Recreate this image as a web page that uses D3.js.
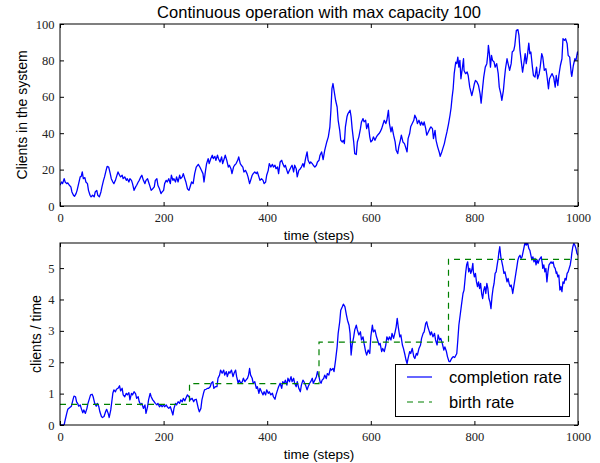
<!DOCTYPE html>
<html>
<head>
<meta charset="utf-8">
<script src="https://cdn.jsdelivr.net/npm/d3@7"></script>
<style>
  body { margin: 0; background: #fff; }
  svg text { font-family: "Liberation Sans", Arial, sans-serif; fill: #000; }
  .tick line { stroke: #000; }
</style>
</head>
<body>
<svg id="chart" width="600" height="463"></svg>
<script>
// Tick values shared by both panels
const timeTicks = [0, 200, 400, 600, 800, 1000];
const clientTicks = [0, 20, 40, 60, 80, 100];
const rateTicks = [0, 1, 2, 3, 4, 5];

// Number of clients in the system over time
const clientSteps = [0,3,5,8,10,13,15,18,21,23,26,28,31,33,36,39,41,43,45,48,50,53,55,58,60,63,66,68,71,73,76,79,81,84,86,89,91,94,97,99,102,104,107,109,112,115,117,120,122,125,128,130,133,135,138,140,143,146,148,151,153,156,158,161,164,166,169,171,174,176,179,182,184,187,189,192,195,197,200,202,205,207,210,213,215,218,220,223,225,228,231,233,236,238,241,243,246,249,250,254,257,260,263,267,270,273,276,278,281,283,286,288,291,294,296,299,301,304,306,309,312,314,317,319,322,325,327,330,332,335,337,340,343,345,348,350,353,355,358,361,363,366,368,371,373,376,379,381,384,386,389,392,394,397,399,402,404,407,410,412,415,417,420,422,425,428,430,433,435,438,440,443,446,448,451,453,456,458,461,464,466,469,471,474,477,479,482,484,487,489,492,495,497,500,502,505,508,511,515,518,521,523,525,527,529,532,535,537,540,542,545,547,549,551,554,556,560,562,564,567,569,572,574,577,580,582,585,587,590,592,595,598,600,603,605,608,611,613,616,618,621,623,626,629,631,634,636,639,641,644,647,649,652,654,657,659,662,665,667,670,672,675,677,680,683,685,688,690,693,696,698,701,703,706,708,711,714,716,719,721,724,726,729,732,734,737,739,742,744,747,750,753,755,757,759,761,764,766,768,770,772,774,777,779,780,783,786,788,791,795,798,800,802,805,808,811,813,816,818,821,824,826,827,829,831,833,835,838,840,843,846,848,851,853,856,858,860,863,865,868,871,873,876,878,881,884,886,888,891,893,895,898,900,902,905,907,909,912,914,917,920,922,925,927,930,932,935,938,940,943,945,948,950,953,956,958,961,963,966,969,971,974,976,979,981,984,987,988,991,994,996,999,1000];
const clientCounts = [11.4,13.2,12.3,15.0,13.2,12.3,12.7,11.4,10.5,7.7,5.9,5.3,6.8,8.6,12.3,16.0,16.3,18.7,15.0,15.6,13.2,12.3,8.6,5.9,5.0,5.9,5.0,7.7,8.6,5.9,5.0,7.7,10.5,14.1,16.0,19.6,21.8,21.4,17.8,15.0,13.2,12.3,14.1,16.0,18.7,16.9,16.0,16.9,15.0,16.0,14.1,15.0,13.2,15.0,14.1,12.3,8.6,10.5,11.4,13.2,14.1,16.0,16.9,14.1,12.3,14.1,15.0,13.2,10.5,8.6,9.5,10.5,14.1,15.0,11.4,9.5,6.8,7.7,8.6,12.3,14.1,13.2,15.0,12.3,16.9,14.1,15.0,13.2,16.0,13.2,16.9,15.0,16.0,17.8,15.0,13.2,9.5,8.6,9.5,13.2,12.3,17.8,21.4,22.9,21.4,19.6,17.8,13.2,19.6,23.3,26.0,23.3,26.0,27.9,26.0,27.3,25.1,27.9,26.0,24.2,27.0,23.3,26.0,27.9,25.1,21.4,22.4,20.5,17.8,21.4,22.4,23.3,25.1,27.0,23.3,22.4,21.4,18.7,19.6,17.8,16.0,12.3,14.1,16.9,17.8,18.7,17.8,18.7,16.0,14.1,15.0,14.1,12.3,13.2,16.9,19.6,23.3,21.4,22.9,21.4,22.4,20.5,21.4,17.8,24.2,25.1,23.3,21.4,22.4,19.6,17.8,19.6,21.4,22.4,18.7,22.4,20.5,16.0,19.6,20.5,21.4,23.3,21.4,26.0,29.7,25.1,23.3,24.2,23.3,22.4,21.4,22.4,24.2,25.1,27.9,29.7,25.5,30.6,35.2,38.0,43.5,52.6,64.5,67.3,63.6,58.1,54.4,47.1,41.6,36.1,35.2,36.1,34.3,43.5,49.0,50.8,52.6,49.0,42.5,35.2,28.8,28.3,35.2,38.0,42.5,46.2,48.0,46.2,47.1,42.5,45.3,38.0,35.2,36.1,38.0,36.1,38.0,38.9,39.8,40.7,42.5,44.4,47.1,45.3,47.1,52.6,45.3,40.7,43.5,38.9,35.2,30.6,28.8,32.5,36.1,38.9,35.2,34.3,32.5,29.7,37.0,39.8,43.5,45.3,47.1,49.9,48.0,45.3,47.1,44.4,46.2,44.4,46.2,42.5,38.9,40.7,42.5,43.5,42.5,37.0,41.6,36.1,32.5,29.7,27.3,29.7,31.5,34.3,37.0,40.7,45.0,50.0,54.0,59.8,64.4,72.7,79.1,78.2,81.8,76.3,80.0,69.9,76.3,80.9,74.5,72.7,73.6,71.7,65.3,60.7,64.4,67.2,69.0,68.1,66.2,61.6,56.5,65.3,70.8,76.3,78.2,83.7,88.3,83.7,76.3,82.8,80.0,79.1,76.3,78.2,72.7,65.3,61.6,58.0,63.5,69.9,75.4,80.9,78.2,74.5,78.2,84.6,85.5,88.3,96.5,96.9,93.8,85.5,78.2,73.6,77.2,83.7,78.2,81.8,89.5,83.7,84.6,76.3,71.7,70.8,76.3,69.9,72.7,76.3,83.7,81.8,74.5,75.4,71.7,64.4,69.9,71.7,72.7,70.8,65.3,71.7,66.2,71.7,77.2,80.9,91.9,91.0,91.9,89.2,82.8,81.8,72.7,71.2,77.2,80.9,80.0,84.6,83.0];

// Completion rate (clients per step) over time
const rateSteps = [0,8,10,13,15,19,22,25,27,30,32,34,36,39,41,44,46,49,52,54,57,59,62,64,67,70,72,75,77,80,82,85,88,90,93,95,98,100,102,104,107,109,112,115,117,120,122,125,128,130,133,135,138,140,143,146,148,151,153,156,158,161,164,166,169,171,174,176,179,182,184,187,189,192,195,197,200,202,205,207,210,213,215,218,220,223,225,228,231,233,236,238,241,243,246,249,252,255,258,260,263,267,269,272,274,277,279,282,285,287,290,292,295,297,300,303,305,308,310,313,316,318,321,323,326,328,331,334,336,339,341,344,346,349,352,354,357,359,362,364,366,368,371,373,376,379,381,384,386,389,392,394,397,399,402,404,407,410,412,415,417,420,422,425,428,430,433,435,438,440,443,446,448,451,453,456,458,461,464,466,469,471,474,477,479,482,484,487,489,492,495,497,500,502,504,506,509,511,514,516,519,522,524,527,529,532,535,537,540,542,545,547,550,553,555,558,560,562,564,567,569,572,574,577,580,582,585,587,590,592,595,598,600,603,605,608,611,613,616,618,621,623,626,629,631,634,636,639,641,644,647,649,651,653,656,658,661,663,666,668,670,672,675,677,680,683,685,688,690,693,696,698,701,703,706,708,710,712,715,717,720,723,725,728,730,733,735,738,741,743,746,748,751,753,756,759,762,766,768,770,773,775,778,780,783,785,787,789,791,793,795,797,798,800,802,804,806,808,810,812,814,816,818,820,822,824,826,828,830,832,834,836,838,840,842,844,846,847,849,851,853,855,857,859,861,863,865,867,869,871,873,874,876,878,880,882,884,886,888,890,892,894,896,898,900,902,903,905,907,909,911,913,915,917,919,921,923,925,927,929,931,932,934,936,938,940,942,944,946,948,950,952,954,956,958,959,961,963,965,967,969,971,973,975,977,979,981,983,985,987,988,990,992,994,996,998,1000];
const completionRate = [0,0,0.16,0.37,0.50,0.56,0.60,0.80,0.92,0.90,0.74,0.69,0.60,0.64,0.53,0.39,0.48,0.37,0.53,0.69,0.85,0.96,0.98,0.90,0.69,0.60,0.69,0.58,0.42,0.27,0.24,0.27,0.42,0.50,0.37,0.24,0.48,0.74,1.01,1.12,1.06,1.14,1.17,1.25,1.09,1.17,0.96,0.90,1.01,0.96,1.03,0.80,1.01,0.96,1.06,0.99,0.85,0.90,0.74,0.64,0.69,0.53,0.64,0.37,0.58,0.80,1.01,0.90,0.80,0.74,0.69,0.64,0.69,0.58,0.64,0.58,0.64,0.58,0.64,0.58,0.53,0.58,0.48,0.32,0.53,0.69,0.64,0.74,0.69,0.80,0.74,0.85,0.77,0.85,0.96,0.90,0.80,0.85,0.74,0.80,0.82,0.53,0.42,0.53,0.80,1.01,1.12,1.14,1.17,1.17,1.22,1.33,1.38,1.17,1.22,1.22,1.49,1.59,1.75,1.65,1.75,1.59,1.70,1.54,1.70,1.65,1.75,1.54,1.65,1.75,1.54,1.33,1.43,1.33,1.38,1.49,1.38,1.43,1.49,1.59,1.80,1.59,1.49,1.33,1.38,1.17,1.22,1.01,1.17,1.06,0.96,1.06,0.96,1.12,1.01,1.06,0.96,1.01,0.90,0.82,0.96,1.12,1.22,1.33,1.17,1.38,1.33,1.43,1.27,1.49,1.38,1.54,1.38,1.49,1.33,1.22,1.38,1.17,1.06,1.27,1.43,1.38,1.27,1.12,1.22,1.33,1.38,1.49,1.33,1.43,1.54,1.70,1.54,1.38,1.33,1.43,1.48,1.59,1.48,1.64,1.59,1.80,1.75,1.80,1.70,2.07,2.49,2.92,3.29,3.66,3.77,3.85,3.77,3.50,3.34,3.18,2.92,2.23,2.55,2.81,3.03,3.18,3.03,2.87,2.97,2.71,2.81,2.60,2.34,2.23,2.39,2.28,2.81,3.18,2.97,3.03,2.81,2.71,2.55,2.60,2.34,2.44,2.34,2.55,2.81,2.71,2.81,2.71,2.92,2.76,2.97,3.13,3.40,3.13,2.81,2.87,2.55,2.44,2.23,2.07,1.96,2.12,2.34,2.28,2.44,2.18,2.12,2.28,2.23,2.44,2.55,2.76,2.92,2.97,3.24,3.29,3.13,3.03,2.87,2.97,2.81,2.92,2.71,2.55,2.87,2.71,2.76,2.60,2.39,2.49,2.34,2.18,2.02,2.02,2.12,2.18,2.15,2.28,2.71,3.18,3.56,3.82,4.19,4.30,4.83,5.10,5.20,4.88,4.99,4.83,4.94,5.15,4.88,4.72,4.83,4.56,4.41,4.56,4.35,4.51,4.19,4.03,4.30,4.41,4.19,4.51,4.35,4.03,3.93,3.71,4.09,4.35,4.51,4.83,4.88,5.10,5.31,5.47,5.68,5.36,5.20,5.04,4.83,4.88,4.72,4.56,4.67,4.51,4.41,4.46,4.30,4.19,4.41,4.62,4.83,5.04,5.26,5.36,5.41,5.31,5.36,5.52,5.68,5.84,5.73,5.84,5.79,5.63,5.57,5.41,5.26,5.36,5.20,5.31,5.10,5.26,5.15,5.26,5.31,5.36,5.15,4.99,5.10,4.88,4.99,4.56,4.88,5.10,5.15,5.20,5.15,5.20,5.04,4.99,4.83,4.88,4.72,4.78,4.30,4.41,4.25,4.56,4.51,4.67,4.62,4.83,4.88,4.99,5.10,5.31,5.47,5.68,5.79,5.73,5.63,5.47,5.41];

// Birth rate: piecewise constant, doubling every 250 steps
const birthStarts = [0, 250, 500, 750];
const birthLevels = [0.66, 1.32, 2.64, 5.28];
const timeEnd = 1000;

const svg = d3.select("#chart");
const left = 60, right = 578;
const panels = {
  top: { y0: 24, y1: 206 },
  bottom: { y0: 243, y1: 425 }
};

const x = d3.scaleLinear().domain([0, timeEnd]).range([left, right]);
const yClients = d3.scaleLinear().domain([0, 100]).range([panels.top.y1, panels.top.y0]);
const yRate = d3.scaleLinear().domain([0, 5.8]).range([panels.bottom.y1, panels.bottom.y0]);
const plain = d => String(d);

function clip(id, p) {
  svg.append("clipPath").attr("id", id)
    .append("rect").attr("x", left).attr("y", p.y0)
    .attr("width", right - left).attr("height", p.y1 - p.y0);
}
clip("clipTop", panels.top);
clip("clipBottom", panels.bottom);

function styleTicks(s) {
  s.select(".domain").remove();
  s.attr("font-family", "Liberation Serif, Times New Roman, serif").attr("font-size", 12.5);
  s.selectAll(".tick text")
    .attr("font-family", "Liberation Serif, Times New Roman, serif")
    .style("font-family", "'Liberation Serif', 'Times New Roman', serif")
    .style("font-size", "12.5px").style("fill", "#222");
}

function axes(p, yScale, yTicks) {
  const tk = 4;
  const g = svg.append("g");
  g.append("g").attr("transform", `translate(0,${p.y1})`)
    .call(d3.axisBottom(x).tickValues(timeTicks).tickFormat(plain).tickSizeInner(-tk).tickSizeOuter(0).tickPadding(7))
    .call(styleTicks);
  g.append("g").attr("transform", `translate(0,${p.y0})`)
    .call(d3.axisTop(x).tickValues(timeTicks).tickSizeInner(-tk).tickSizeOuter(0).tickFormat(""))
    .call(styleTicks);
  g.append("g").attr("transform", `translate(${left},0)`)
    .call(d3.axisLeft(yScale).tickValues(yTicks).tickFormat(plain).tickSizeInner(-tk).tickSizeOuter(0).tickPadding(5.5))
    .call(styleTicks);
  g.append("g").attr("transform", `translate(${right},0)`)
    .call(d3.axisRight(yScale).tickValues(yTicks).tickSizeInner(-tk).tickSizeOuter(0).tickFormat(""))
    .call(styleTicks);
  g.append("rect").attr("x", left).attr("y", p.y0)
    .attr("width", right - left).attr("height", p.y1 - p.y0)
    .attr("fill", "none").attr("stroke", "#000").attr("stroke-width", 1);
  return g;
}

// Top panel: clients in the system
const topLine = d3.line().x((d, i) => x(clientSteps[i])).y(d => yClients(d));
svg.append("path").datum(clientCounts)
  .attr("clip-path", "url(#clipTop)")
  .attr("d", topLine).attr("fill", "none")
  .attr("stroke", "#0000ff").attr("stroke-width", 1.3).attr("stroke-linejoin", "round");
axes(panels.top, yClients, clientTicks);

// Bottom panel: completion rate vs birth rate
const rateLine = d3.line().x((d, i) => x(rateSteps[i])).y(d => yRate(d));
svg.append("path").datum(completionRate)
  .attr("clip-path", "url(#clipBottom)")
  .attr("d", rateLine).attr("fill", "none")
  .attr("stroke", "#0000ff").attr("stroke-width", 1.3).attr("stroke-linejoin", "round");

const birthPts = birthStarts.map((t, i) => [t, birthLevels[i]]);
birthPts.push([timeEnd, birthLevels[birthLevels.length - 1]]);
svg.append("path").datum(birthPts)
  .attr("clip-path", "url(#clipBottom)")
  .attr("d", d3.line().x(d => x(d[0])).y(d => yRate(d[1])).curve(d3.curveStepAfter))
  .attr("fill", "none").attr("stroke", "#008000").attr("stroke-width", 1.2)
  .attr("stroke-dasharray", "6,5");
axes(panels.bottom, yRate, rateTicks);

// Titles and axis labels
const midX = (left + right) / 2;
svg.append("text").attr("x", midX).attr("y", 18).attr("text-anchor", "middle")
  .style("font-size", "16.5px").text("Continuous operation with max capacity 100");
svg.append("text").attr("x", midX).attr("y", 239.5).attr("text-anchor", "middle")
  .style("font-size", "13.5px").text("time (steps)");
svg.append("text").attr("x", midX).attr("y", 458.5).attr("text-anchor", "middle")
  .style("font-size", "13.5px").text("time (steps)");
svg.append("text").attr("transform", `translate(26.5,${(panels.top.y0 + panels.top.y1) / 2}) rotate(-90)`)
  .attr("text-anchor", "middle").style("font-size", "14px").text("Clients in the system");
svg.append("text").attr("transform", `translate(41,${(panels.bottom.y0 + panels.bottom.y1) / 2}) rotate(-90)`)
  .attr("text-anchor", "middle").style("font-size", "14px").text("clients / time");

// Legend
const lg = svg.append("g");
lg.append("rect").attr("x", 395.5).attr("y", 364.5).attr("width", 174).attr("height", 52)
  .attr("fill", "#fff").attr("stroke", "#000").attr("stroke-width", 1);
const entries = [
  { label: "completion rate", color: "#0000ff", dash: null, y: 377 },
  { label: "birth rate", color: "#008000", dash: "6,5", y: 402 }
];
entries.forEach(e => {
  lg.append("line").attr("x1", 407).attr("x2", 432).attr("y1", e.y).attr("y2", e.y)
    .attr("stroke", e.color).attr("stroke-width", 1.2).attr("stroke-dasharray", e.dash);
  lg.append("text").attr("x", 449).attr("y", e.y + 5.8).style("font-size", "16.5px").text(e.label);
});
</script>
</body>
</html>
